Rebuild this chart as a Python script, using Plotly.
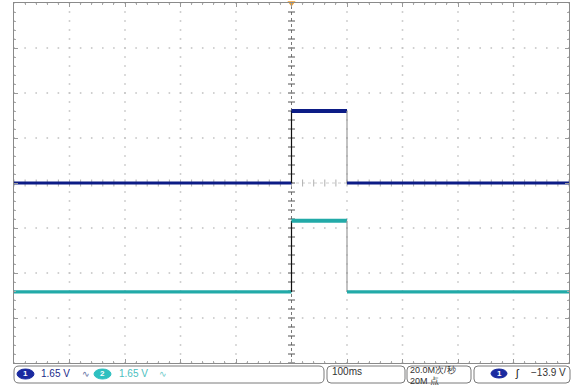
import numpy as np
import plotly.graph_objects as go

# Horizontal: time in ms (100 ms/div, 10 divisions); vertical: screen divisions (8 divisions)
time_ms = [-500, 0, 0, 100, 100, 500]
ch1_div = [0.0, 0.0, 1.6, 1.6, 0.0, 0.0]
ch2_div = [-2.42, -2.42, -0.84, -0.84, -2.42, -2.42]

ch1_label = "1.65 V"
ch2_label = "1.65 V"
timebase_label = "100ms"
rate_label = "20.0M次/秒"
points_label = "20M 点"
trigger_label = "−13.9 V"

CH1_COLOR = "#0c1c86"
CH2_COLOR = "#22aaa8"
GRID_COLOR = "#c4c4c4"
FRAME_COLOR = "#8a8a8a"

W, H = 573, 385
L, R, T, B = 14, 569, 3, 363


def px(x):
    return (x - L) / (R - L)


def py(y):
    return (B - y) / (B - T)


fig = go.Figure()

# dotted graticule: a dot every 1/5 division along each division line
gx, gy = [], []
for xv in np.arange(-500, 501, 100):
    if xv == 0:
        continue
    for yv in np.arange(-4, 4.001, 0.2):
        gx.append(xv); gy.append(yv)
for yv in np.arange(-4, 5, 1):
    if yv == 0:
        continue
    for xv in np.arange(-500, 501, 20):
        gx.append(xv); gy.append(yv)
fig.add_trace(go.Scatter(x=gx, y=gy, mode="markers", hoverinfo="skip",
                         marker=dict(symbol="square", size=1.6, color=GRID_COLOR,
                                     line=dict(width=0))))

# centre crosshair with minor tick marks
cx = list(np.arange(-500, 501, 20))
fig.add_trace(go.Scatter(x=cx, y=[0] * len(cx), mode="markers", hoverinfo="skip",
                         marker=dict(symbol="line-ns", size=5, color="#b0b0b0",
                                     line=dict(width=1, color="#b0b0b0"))))
cy = list(np.arange(-4, 4.001, 0.2))
fig.add_trace(go.Scatter(x=[0] * len(cy), y=cy, mode="markers", hoverinfo="skip",
                         marker=dict(symbol="line-ew", size=5, color="#555555",
                                     line=dict(width=1, color="#555555"))))
fig.add_shape(type="line", x0=0, x1=0, y0=-4, y1=4, xref="x", yref="y",
              line=dict(color="#777777", width=1, dash="dot"), layer="below")
fig.add_shape(type="line", x0=-500, x1=500, y0=0, y1=0, xref="x", yref="y",
              line=dict(color="#cccccc", width=1, dash="dot"), layer="below")


def add_channel(levels, color, width):
    # flat segments in the channel colour, rising edge black, falling edge grey
    for i in range(len(time_ms) - 1):
        x0, x1 = time_ms[i], time_ms[i + 1]
        y0, y1 = levels[i], levels[i + 1]
        if x0 == x1:
            edge_color = "#111111" if y1 > y0 else "#9a9a9a"
            fig.add_trace(go.Scatter(x=[x0, x1], y=[y0, y1], mode="lines", hoverinfo="skip",
                                     line=dict(color=edge_color, width=1.2)))
        else:
            w = width + 0.8 if y0 != levels[0] else width
            fig.add_trace(go.Scatter(x=[x0, x1], y=[y0, y1], mode="lines", hoverinfo="skip",
                                     line=dict(color=color, width=w)))


add_channel(ch2_div, CH2_COLOR, 3.2)
add_channel(ch1_div, CH1_COLOR, 3.2)

# trigger position marker at the top of the screen
fig.add_trace(go.Scatter(x=[0], y=[4], mode="markers", hoverinfo="skip", cliponaxis=False,
                         marker=dict(symbol="triangle-down", size=7, color="#f0a030")))


def rbox(x0, x1, y0, y1, r=5):
    path = (f"M {px(x0 + r)} {py(y0)} L {px(x1 - r)} {py(y0)} "
            f"Q {px(x1)} {py(y0)} {px(x1)} {py(y0 + r)} L {px(x1)} {py(y1 - r)} "
            f"Q {px(x1)} {py(y1)} {px(x1 - r)} {py(y1)} L {px(x0 + r)} {py(y1)} "
            f"Q {px(x0)} {py(y1)} {px(x0)} {py(y1 - r)} L {px(x0)} {py(y0 + r)} "
            f"Q {px(x0)} {py(y0)} {px(x0 + r)} {py(y0)} Z")
    fig.add_shape(type="path", path=path, xref="paper", yref="paper",
                  line=dict(color="#7a7a7a", width=1), fillcolor="white")


def label(text, x, y, color, size=10, anchor="left"):
    fig.add_annotation(text=text, x=px(x), y=py(y), xref="paper", yref="paper",
                       xanchor=anchor, yanchor="middle", showarrow=False,
                       borderpad=0,
                       font=dict(family="Liberation Sans, Arial", size=size, color=color))


def badge(x0, x1, y0, y1, color, text):
    fig.add_shape(type="circle", xref="paper", yref="paper",
                  x0=px(x0), x1=px(x1), y0=py(y1), y1=py(y0),
                  fillcolor=color, line=dict(color=color, width=1))
    label("<b>" + text + "</b>", (x0 + x1) / 2, (y0 + y1) / 2, "white", 8, "center")


# status bar
rbox(14, 324, 366, 383)
badge(17, 34, 369, 379, "#1a2aa0", "1")
label(ch1_label, 40, 374, "#1a2a8a")
label("∿", 81, 374, "#5a6aa0", 9)
badge(94, 111, 369, 379, "#2ec0c0", "2")
label(ch2_label, 118, 374, "#4ac0c0")
label("∿", 158, 374, "#6ac8c8", 9)

rbox(327, 405, 366, 383, 4)
label(timebase_label, 331, 372, "#333333")

rbox(407, 471, 366, 383, 4)
label(rate_label, 409, 370, "#333333", 9)
label(points_label, 409, 381, "#333333", 9)

rbox(474, 570, 366, 383, 4)
badge(491, 507, 369, 378, "#1a2aa0", "1")
label("ʃ", 514, 373, "#222222", 11)
label(trigger_label, 567, 373, "#333333", 10, "right")

fig.update_xaxes(range=[-500, 500], showgrid=False, zeroline=False, showticklabels=False,
                 showline=True, linecolor=FRAME_COLOR, linewidth=1, mirror="ticks",
                 ticks="inside", dtick=100, ticklen=4, tickcolor="#9a9a9a",
                 minor=dict(ticks="inside", dtick=20, ticklen=2, tickcolor="#aaaaaa"))
fig.update_yaxes(range=[-4, 4], showgrid=False, zeroline=False, showticklabels=False,
                 showline=True, linecolor=FRAME_COLOR, linewidth=1, mirror="ticks",
                 ticks="inside", dtick=1, ticklen=4, tickcolor="#9a9a9a",
                 minor=dict(ticks="inside", dtick=0.2, ticklen=2, tickcolor="#aaaaaa"))

fig.update_layout(width=W, height=H, showlegend=False,
                  margin=dict(l=L, r=W - R, t=T, b=H - B),
                  paper_bgcolor="white", plot_bgcolor="white")

fig.write_html("out.html", config={"displayModeBar": False})
